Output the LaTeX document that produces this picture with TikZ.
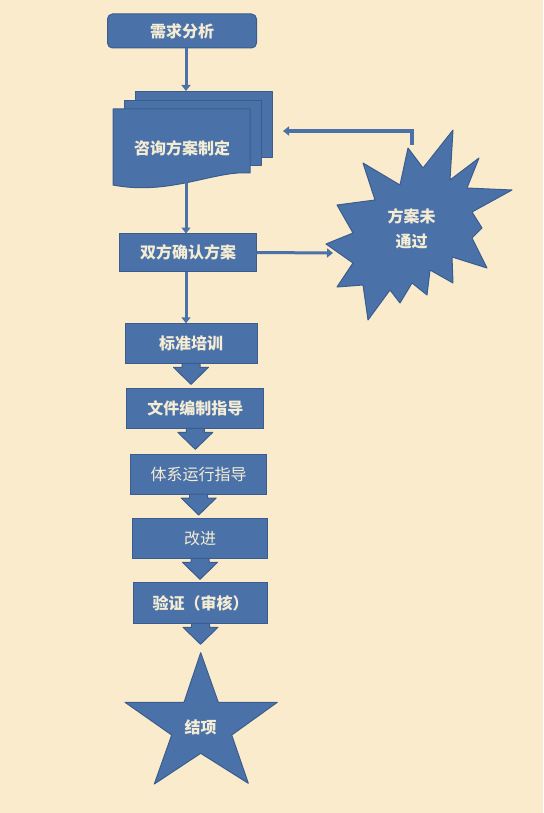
\documentclass[tikz,border=0pt]{standalone}
\usepackage{fontspec}
\newfontfamily\cjk{Noto Sans CJK SC}
\usetikzlibrary{arrows.meta}
\definecolor{Paper}{HTML}{F9EBCB}
\definecolor{Box}{HTML}{4A72A8}
\definecolor{BoxLine}{HTML}{3A5D8F}
\definecolor{Label}{HTML}{F4ECD4}

\begin{document}
\begin{tikzpicture}[
  x=1pt, y=-1pt,
  >={Triangle[width=9pt,length=6pt]},
  every node/.style={font=\cjk\fontsize{16}{19}\selectfont\bfseries, text=Label},
  mybox/.style={
    draw=BoxLine,
    fill=Box,
    line width=1pt,
    inner sep=0pt,
    outer sep=0pt,
    align=center
  },
  myshape/.style={draw=BoxLine, fill=Box, line width=1pt, line join=round},
  link/.style={->, line width=3pt, draw=Box},
  lighttext/.style={font=\cjk\fontsize{16}{19}\selectfont},
  twolines/.style={align=center, font=\cjk\fontsize{16}{25}\selectfont\bfseries}
]
\useasboundingbox (0,0) rectangle (543,813);
\fill[Paper] (0,0) rectangle (543,813);

% Étapes
\node[mybox, rounded corners=5pt, minimum width=149pt, minimum height=34pt] (need) at (182,31) {需求分析};

% Dossier
\filldraw[myshape] (135,92) rectangle (272,158);
\filldraw[myshape] (124,101) rectangle (261,166);
\filldraw[myshape] (113,109) -- (250,109) -- (250,173)
  .. controls (215,170) and (170,196) .. (113,185) -- cycle;
\node (plan) at (182,148) {咨询方案制定};
\coordinate (plantop) at (186,91);
\coordinate (planbot) at (186,180);
\coordinate (planin) at (283,131);

\node[mybox, minimum width=137pt, minimum height=38pt] (confirm) at (188,252.5) {双方确认方案};
\node[mybox, minimum width=132pt, minimum height=40pt] (train) at (191,343.3) {标准培训};
\node[mybox, minimum width=137pt, minimum height=40pt] (docs) at (195.3,408.3) {文件编制指导};
\node[mybox, lighttext, minimum width=136pt, minimum height=40pt] (run) at (198.7,474) {体系运行指导};
\node[mybox, lighttext, minimum width=135pt, minimum height=40pt] (improve) at (200,538.3) {改进};
\node[mybox, minimum width=134pt, minimum height=40.5pt] (verify) at (200.5,603) {验证（审核）};

% Étoile : plan refusé
\filldraw[myshape] (408,148) -- (423,168) -- (453,130) -- (450,180) -- (479,158)
  -- (467,188) -- (512,190) -- (472,212) -- (482,228) -- (472,238) -- (487,268)
  -- (452,257) -- (453,283) -- (430,270) -- (427,295) -- (412,283) -- (400,303)
  -- (390,290) -- (368,320) -- (363,285) -- (337,287) -- (353,263) -- (326,244)
  -- (353,233) -- (337,205) -- (375,200) -- (363,163) -- (400,185) -- cycle;
\node[twolines] (fail) at (411.5,229) {方案未\\通过};
\coordinate (failin) at (333,253);
\coordinate (failout) at (412,145);

% Étoile : fin
\filldraw[myshape] (200.7,652.7) -- (218.3,702.3) -- (277.3,702.3) -- (231.7,735)
  -- (248.3,783.3) -- (200.7,753.3) -- (154.3,784) -- (171.7,735) -- (125,702.3)
  -- (184,702.3) -- cycle;
\node (done) at (200.7,727) {结项};

% Flèches
\draw[link] (need.south -| plantop) -- (plantop);
\draw[link] (planbot) -- (planbot |- confirm.north);
\draw[link] (confirm.south -| planbot) -- (planbot |- train.north);
\draw[link] (confirm.east) -- (failin);
\draw[link, line width=4pt] (failout) |- (planin);
\foreach \n in {train, docs, run, improve, verify}
  \filldraw[myshape] ([xshift=-9pt]\n.south) -- ++(0,4) -- ++(-8.5,0) -- ++(17.5,17)
    -- ++(17.5,-17) -- ++(-8.5,0) -- ++(0,-4) -- cycle;
\end{tikzpicture}
\end{document}
